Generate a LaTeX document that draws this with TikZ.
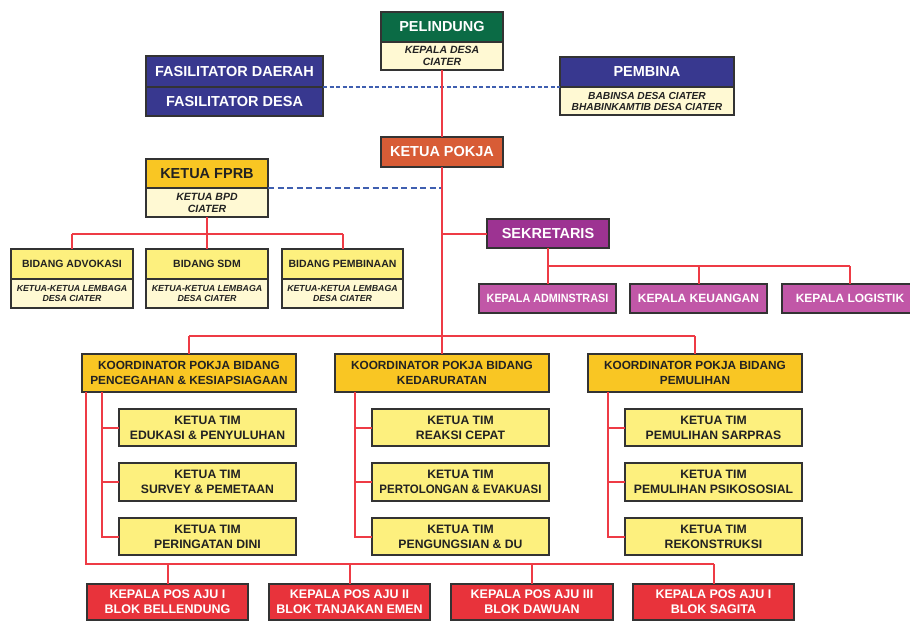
\documentclass[tikz,border=0pt]{standalone}
\usepackage{fontspec}
\usepackage{graphicx}
\setmainfont{Liberation Sans}
\definecolor{cgreen}{HTML}{0B6B45}
\definecolor{cblue}{HTML}{38388F}
\definecolor{cdash}{HTML}{3F5FB0}
\definecolor{corange}{HTML}{D85C36}
\definecolor{cgold}{HTML}{F9C623}
\definecolor{cyel}{HTML}{FDF07E}
\definecolor{ccream}{HTML}{FFF9D3}
\definecolor{cpurple}{HTML}{9D3392}
\definecolor{cpink}{HTML}{C157A7}
\definecolor{cred}{HTML}{E8333B}
\definecolor{cline}{HTML}{EE3B45}
\definecolor{cborder}{HTML}{333333}
\definecolor{ctext}{HTML}{222222}
\newcommand\fs[2]{\fontsize{#1}{#2}\selectfont}
\newcommand\bx[7]{\node[#6, anchor=north west, minimum width={#4-#2}, minimum height={#5-#3}] (#1) at (#2,#3) {#7};}
\tikzset{
  bx/.style={draw=cborder, line width=1.7pt, inner sep=0pt, outer sep=0pt, align=center},
  bighdr/.style={bx, text=white, font=\bfseries\fs{14.5}{16}},
  greenhdr/.style={bighdr, fill=cgreen},
  bluehdr/.style={bighdr, fill=cblue},
  orangehdr/.style={bighdr, fill=corange},
  purplehdr/.style={bighdr, fill=cpurple},
  goldhdr/.style={bx, fill=cgold, text=ctext, font=\bfseries\fs{14.5}{16}},
  subtxt/.style={bx, fill=ccream, text=ctext, font=\bfseries\itshape\fs{10.5}{12}},
  bidhdr/.style={bx, fill=cyel, text=ctext, font=\bfseries\fs{10.5}{12}},
  bidsub/.style={bx, fill=ccream, text=ctext, font=\bfseries\itshape\fs{8.8}{10}},
  kepbox/.style={bx, fill=cpink, text=white, font=\bfseries\fs{12}{14}},
  koorbox/.style={bx, fill=cgold, text=ctext, font=\bfseries\fs{11.8}{15}},
  timbox/.style={bx, fill=cyel, text=ctext, font=\bfseries\fs{12.2}{15}},
  posbox/.style={bx, fill=cred, text=white, font=\bfseries\fs{12.5}{15}},
  conn/.style={draw=cline, line width=2pt},
  dashA/.style={draw=cdash, line width=1.8pt, dash pattern=on 4pt off 2.5pt},
  dashB/.style={draw=cdash, line width=1.8pt, dash pattern=on 6pt off 3.5pt},
}
\begin{document}
\begin{tikzpicture}[x=1pt,y=-1pt]
\clip (0,0) rectangle (910,622);
\fill[white] (0,0) rectangle (910,622);

% coordinates
\coordinate (hub) at (442,336);
\coordinate (sekj) at (442,234);
\coordinate (fj) at (207,234);
\coordinate (sj) at (548,266);
\coordinate (pj) at (86,564);

% top
\bx{pel}{381}{12}{503}{42}{greenhdr}{PELINDUNG}
\bx{pelsub}{381}{42}{503}{70}{subtxt}{KEPALA DESA\\CIATER}
\bx{fasd}{146}{56}{323}{87}{bluehdr}{FASILITATOR DAERAH}
\bx{fasde}{146}{87}{323}{116}{bluehdr}{FASILITATOR DESA}
\bx{pem}{560}{57}{734}{87}{bluehdr}{PEMBINA}
\bx{pemsub}{560}{87}{734}{115}{subtxt, font=\bfseries\itshape\fs{10.2}{11}}{BABINSA DESA CIATER\\BHABINKAMTIB DESA CIATER}
\bx{pokja}{381}{137}{503}{167}{orangehdr}{KETUA POKJA}

% FPRB
\bx{fprb}{146}{159}{268}{188}{goldhdr}{KETUA FPRB}
\bx{fprbsub}{146}{188}{268}{217}{subtxt}{KETUA BPD\\CIATER}
\bx{bid1}{11}{249}{133}{279}{bidhdr}{BIDANG ADVOKASI}
\bx{bid1s}{11}{279}{133}{308}{bidsub}{KETUA-KETUA LEMBAGA\\DESA CIATER}
\bx{bid2}{146}{249}{268}{279}{bidhdr}{BIDANG SDM}
\bx{bid2s}{146}{279}{268}{308}{bidsub}{KETUA-KETUA LEMBAGA\\DESA CIATER}
\bx{bid3}{282}{249}{403}{279}{bidhdr}{BIDANG PEMBINAAN}
\bx{bid3s}{282}{279}{403}{308}{bidsub}{KETUA-KETUA LEMBAGA\\DESA CIATER}

% Sekretaris
\bx{sek}{487}{219}{609}{248}{purplehdr}{SEKRETARIS}
\bx{kep1}{479}{284}{616}{313}{kepbox}{\scalebox{0.9}[1]{KEPALA ADMINSTRASI}}
\bx{kep2}{630}{284}{767}{313}{kepbox}{KEPALA KEUANGAN}
\bx{kep3}{782}{284}{918}{313}{kepbox}{KEPALA LOGISTIK}

% Koordinator
\bx{ko1}{82}{354}{296}{392}{koorbox}{KOORDINATOR POKJA BIDANG\\PENCEGAHAN \& KESIAPSIAGAAN}
\bx{ko2}{335}{354}{549}{392}{koorbox}{KOORDINATOR POKJA BIDANG\\KEDARURATAN}
\bx{ko3}{588}{354}{802}{392}{koorbox}{KOORDINATOR POKJA BIDANG\\PEMULIHAN}

\bx{t11}{119}{409}{296}{446}{timbox}{KETUA TIM\\EDUKASI \& PENYULUHAN}
\bx{t12}{119}{463}{296}{501}{timbox}{KETUA TIM\\SURVEY \& PEMETAAN}
\bx{t13}{119}{518}{296}{555}{timbox}{KETUA TIM\\PERINGATAN DINI}
\bx{t21}{372}{409}{549}{446}{timbox}{KETUA TIM\\REAKSI CEPAT}
\bx{t22}{372}{463}{549}{501}{timbox}{KETUA TIM\\\scalebox{0.94}[1]{PERTOLONGAN \& EVAKUASI}}
\bx{t23}{372}{518}{549}{555}{timbox}{KETUA TIM\\PENGUNGSIAN \& DU}
\bx{t31}{625}{409}{802}{446}{timbox}{KETUA TIM\\PEMULIHAN SARPRAS}
\bx{t32}{625}{463}{802}{501}{timbox}{KETUA TIM\\PEMULIHAN PSIKOSOSIAL}
\bx{t33}{625}{518}{802}{555}{timbox}{KETUA TIM\\REKONSTRUKSI}

\bx{pos1}{87}{584}{248}{620}{posbox}{KEPALA POS AJU I\\BLOK BELLENDUNG}
\bx{pos2}{269}{584}{430}{620}{posbox}{KEPALA POS AJU II\\BLOK TANJAKAN EMEN}
\bx{pos3}{451}{584}{613}{620}{posbox}{KEPALA POS AJU III\\BLOK DAWUAN}
\bx{pos4}{633}{584}{794}{620}{posbox}{KEPALA POS AJU I\\BLOK SAGITA}

% dashed links
\draw[dashA] (fasd.south east) -- (pem.south west);
\draw[dashB] (fprb.south east) -- (fprb.south east -| pokja.south);

% main spine
\draw[conn] (pelsub.south) -- (pokja.north);
\draw[conn] (pokja.south) -- (hub);
\draw[conn] (sekj) -- (sekj -| sek.west);

% FPRB branch
\draw[conn] (fprbsub.south) -- (fj);
\draw[conn] (fj -| bid1.north) -- (fj -| bid3.north);
\draw[conn] (fj -| bid1.north) -- (bid1.north);
\draw[conn] (fj) -- (bid2.north);
\draw[conn] (fj -| bid3.north) -- (bid3.north);

% Sekretaris branch
\draw[conn] (sek.south) -- (sek.south |- sj);
\draw[conn] (sek.south |- sj) -- (850,266) coordinate (sje);
\draw[conn] (sek.south |- sj) -- (kep1.north -| sek.south);
\draw[conn] (kep2.north |- sj) -- (kep2.north);
\draw[conn] (sje) -- (sje |- kep3.north);

% koordinator bar
\draw[conn] (hub -| ko1.north) -- (hub -| ko3.north);
\draw[conn] (hub -| ko1.north) -- (ko1.north);
\draw[conn] (hub) -- (ko2.north);
\draw[conn] (hub -| ko3.north) -- (ko3.north);

% team verticals
\foreach \k/\a/\b/\c [count=\i] in {ko1/t11/t12/t13, ko2/t21/t22/t23, ko3/t31/t32/t33}{
  \coordinate (top\i) at ([xshift=20pt]\k.south west);
  \draw[conn] (top\i) -- (top\i |- \c.west) -- (\c.west);
  \draw[conn] (top\i |- \a.west) -- (\a.west);
  \draw[conn] (top\i |- \b.west) -- (\b.west);
}

% pos branch
\draw[conn] ([xshift=4pt]ko1.south west) -- ([xshift=4pt]ko1.south west |- pj) -- (pj -| pos4.north);
\draw[conn] (pj -| pos1.north) -- (pos1.north);
\draw[conn] (pj -| pos2.north) -- (pos2.north);
\draw[conn] (pj -| pos3.north) -- (pos3.north);
\draw[conn] (pj -| pos4.north) -- (pos4.north);
\end{tikzpicture}
\end{document}
